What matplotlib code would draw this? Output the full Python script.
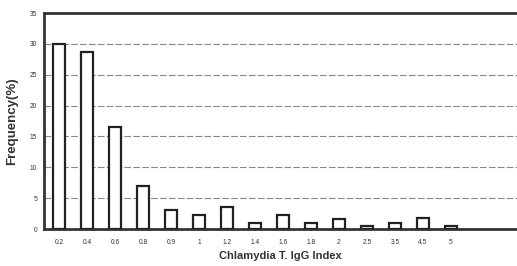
import matplotlib
matplotlib.use("Agg")
import matplotlib.pyplot as plt
import numpy as np

# data
labels = ["0.2", "0.4", "0.6", "0.8", "0.9", "1", "1.2", "1.4",
          "1.6", "1.8", "2", "2.5", "3.5", "4.5", "5"]
freq = [30.0, 28.7, 16.5, 7.0, 3.1, 2.2, 3.5, 0.9,
        2.2, 0.9, 1.7, 0.5, 0.9, 1.8, 0.5]
yticks = [0, 5, 10, 15, 20, 25, 30, 35]

plt.rcParams['font.family'] = ['Liberation Sans', 'DejaVu Sans']

fig = plt.figure(figsize=(5.17, 2.66), dpi=100)
ax = fig.add_axes([0.085, 0.139, 0.915, 0.812])

x = np.arange(len(labels))
ax.bar(x, freq, width=0.43, facecolor="white", edgecolor="#222222",
       linewidth=1.6, zorder=3)

ax.set_xlim(-0.54, 16.36)
ax.set_ylim(0, 35)
ax.set_yticks(yticks)
ax.set_yticklabels([str(v) for v in yticks], fontsize=4.8, color="#333333")
ax.set_xticks(x)
ax.set_xticklabels(labels, fontsize=4.8, color="#333333")
ax.tick_params(axis="both", length=0)
ax.tick_params(axis="x", pad=7)
ax.tick_params(axis="y", pad=5)

for v in yticks[1:-1]:
    ax.axhline(v, color="#888888", linewidth=0.8, linestyle=(0, (6, 2)), zorder=1)

for s in ["left", "bottom", "top"]:
    ax.spines[s].set_linewidth(2.0)
    ax.spines[s].set_color("#333333")
ax.spines["right"].set_visible(False)

ax.set_ylabel("Frequency(%)", fontsize=9.5, fontweight="bold", color="#333333", labelpad=8)
ax.set_xlabel("Chlamydia T. IgG Index", fontsize=8, fontweight="bold",
              color="#333333", labelpad=4)

fig.savefig("out.png", dpi=100)
